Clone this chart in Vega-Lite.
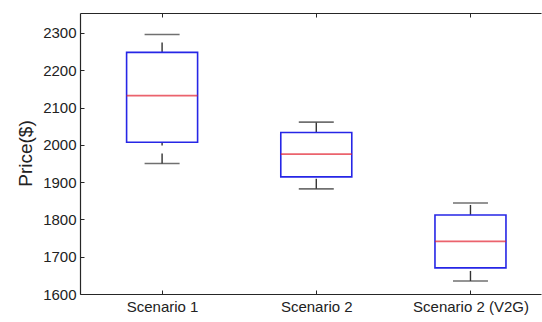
{
  "$schema": "https://vega.github.io/schema/vega-lite/v6.json",
  "autosize": "none",
  "width": 461,
  "height": 281,
  "padding": {"left": 80, "top": 13, "right": 1, "bottom": 28},
  "background": "white",
  "config": {
    "view": {"stroke": null},
    "font": "Liberation Sans",
    "axis": {
      "grid": false,
      "domainColor": "#262626",
      "domainWidth": 1.2,
      "tickColor": "#262626",
      "tickWidth": 1,
      "tickSize": -4,
      "labelFont": "Liberation Sans",
      "labelFontSize": 15,
      "labelColor": "#222222",
      "titleFont": "Liberation Sans",
      "titleFontWeight": "normal",
      "titleColor": "#222222"
    }
  },
  "data": {
    "values": [
      {"scenario": "Scenario 1", "pos": 1, "min": 1950, "q1": 2007, "median": 2132, "q3": 2248, "max": 2296},
      {"scenario": "Scenario 2", "pos": 2, "min": 1882, "q1": 1914, "median": 1975, "q3": 2033, "max": 2061},
      {"scenario": "Scenario 2 (V2G)", "pos": 3, "min": 1635, "q1": 1670, "median": 1741, "q3": 1812, "max": 1844}
    ]
  },
  "resolve": {"axis": {"x": "independent", "y": "independent"}},
  "layer": [
    {
      "mark": {"type": "rule", "color": "#333333", "strokeWidth": 1.4, "strokeDash": [10, 8]},
      "encoding": {
        "x": {"field": "pos", "type": "quantitative", "scale": {"domain": [0.5, 3.425], "nice": false, "zero": false},
          "axis": {"orient": "bottom", "values": [1, 2, 3], "title": null, "labelPadding": 9,
            "labelExpr": "datum.value == 1 ? 'Scenario 1' : datum.value == 2 ? 'Scenario 2' : 'Scenario 2 (V2G)'"}},
        "y": {"field": "q3", "type": "quantitative", "scale": {"domain": [1600, 2353.6], "nice": false, "zero": false},
          "axis": {"values": [1600, 1700, 1800, 1900, 2000, 2100, 2200, 2300], "format": "d", "title": "Price($)", "titleFontSize": 19,
            "labelPadding": 8, "titleX": -49, "titleY": 140, "titleAngle": -90, "titleAlign": "center", "titleBaseline": "alphabetic"}},
        "y2": {"field": "max"}
      }
    },
    {
      "mark": {"type": "rule", "color": "#333333", "strokeWidth": 1.4, "strokeDash": [10, 8]},
      "encoding": {
        "x": {"field": "pos", "type": "quantitative", "axis": null},
        "y": {"field": "min", "type": "quantitative", "axis": null},
        "y2": {"field": "q1"}
      }
    },
    {
      "mark": {"type": "tick", "orient": "horizontal", "size": 35, "thickness": 1.6, "color": "#333333"},
      "encoding": {
        "x": {"field": "pos", "type": "quantitative", "axis": null},
        "y": {"field": "max", "type": "quantitative", "axis": null}
      }
    },
    {
      "mark": {"type": "tick", "orient": "horizontal", "size": 35, "thickness": 1.6, "color": "#333333"},
      "encoding": {
        "x": {"field": "pos", "type": "quantitative", "axis": null},
        "y": {"field": "min", "type": "quantitative", "axis": null}
      }
    },
    {
      "mark": {"type": "bar", "width": 71, "fill": "transparent", "stroke": "#2626e6", "strokeWidth": 1.6},
      "encoding": {
        "x": {"field": "pos", "type": "quantitative", "axis": null},
        "y": {"field": "q1", "type": "quantitative", "axis": null},
        "y2": {"field": "q3"}
      }
    },
    {
      "mark": {"type": "tick", "orient": "horizontal", "size": 71, "thickness": 1.8, "color": "#e3212f"},
      "encoding": {
        "x": {"field": "pos", "type": "quantitative",
          "axis": {"orient": "top", "values": [1, 2, 3], "labels": false, "title": null}},
        "y": {"field": "median", "type": "quantitative", "axis": null}
      }
    }
  ]
}
